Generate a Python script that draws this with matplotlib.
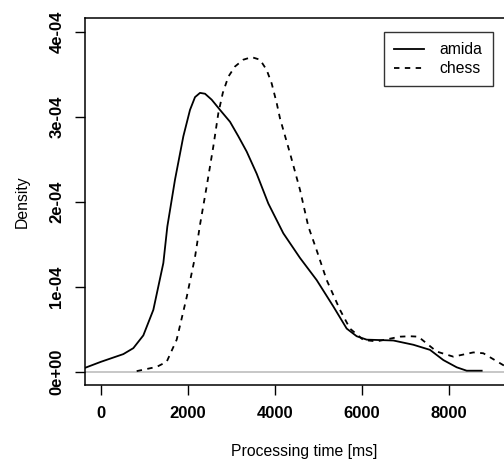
import matplotlib.pyplot as plt
import matplotlib as mpl
import numpy as np

mpl.rcParams.update({
    "font.family": ["Liberation Sans", "DejaVu Sans"],
    "font.size": 11,
})

# ===========================================================
# Data (density curves, y in units of 1e-4)
# ===========================================================
amida_x = [-361, 0, 513, 743, 973, 1203, 1433, 1525, 1701, 1893, 2046, 2161,
           2276, 2391, 2544, 2736, 2966, 3157, 3349, 3579, 3846, 4191, 4575,
           4958, 5341, 5648, 5878, 6108, 6720, 7180, 7563, 7870, 8177, 8406, 8751]
amida_y = [0.05, 0.12, 0.21, 0.28, 0.43, 0.73, 1.28, 1.71, 2.26, 2.77, 3.08, 3.23,
           3.28, 3.27, 3.20, 3.08, 2.94, 2.77, 2.59, 2.33, 1.98, 1.63, 1.34,
           1.08, 0.77, 0.51, 0.42, 0.38, 0.37, 0.32, 0.26, 0.14, 0.055, 0.015, 0.015]

chess_x = [820, 1280, 1510, 1740, 1970, 2161, 2276, 2429, 2582, 2697, 2800, 2927,
           3080, 3271, 3464, 3655, 3808, 3924, 4039, 4115, 4345, 4575, 4766,
           4958, 5188, 5494, 5724, 6031, 6338, 6874, 7103, 7294, 7717, 8100,
           8559, 8789, 9249, 9500]
chess_y = [0.01, 0.06, 0.12, 0.38, 0.88, 1.35, 1.73, 2.18, 2.65, 3.04, 3.28, 3.47,
           3.59, 3.67, 3.70, 3.67, 3.55, 3.39, 3.16, 2.98, 2.57, 2.14, 1.71,
           1.43, 1.08, 0.73, 0.51, 0.376, 0.36, 0.415, 0.42, 0.415, 0.24, 0.18,
           0.23, 0.22, 0.08, 0.03]

x_ticks = [0, 2000, 4000, 6000, 8000]
y_ticks = [0, 1e-4, 2e-4, 3e-4, 4e-4]
y_tick_labels = ["0e+00", "1e-04", "2e-04", "3e-04", "4e-04"]

# ===========================================================
# Figure
# ===========================================================
W, H = 504, 459
fig = plt.figure(figsize=(W / 100, H / 100), dpi=100)

left, top, bottom = 85.3, 18, 385
xmin, xmax = -361, 9700
px_per_unit = 87 / 2000
width_px = (xmax - xmin) * px_per_unit
ax = fig.add_axes([left / W, (H - bottom) / H, width_px / W, (bottom - top) / H])

ax.axhline(0, color="#bebebe", lw=1.2, zorder=1)
ax.plot(amida_x, np.array(amida_y) * 1e-4, color="black", lw=1.3,
        label="amida", zorder=3)
ax.plot(chess_x, np.array(chess_y) * 1e-4, color="black", lw=1.3,
        dashes=(3, 3), label="chess", zorder=3)

ax.set_xlim(xmin, xmax)
ax.set_ylim(-0.153e-4, 4.16e-4)

ax.set_xticks(x_ticks)
ax.set_xticklabels([str(t) for t in x_ticks], fontweight="bold", fontsize=12)
ax.set_yticks(y_ticks)
ax.set_yticklabels(y_tick_labels, fontweight="bold", fontsize=12,
                   rotation=90, va="center")
ax.tick_params(direction="out", length=7, width=1, pad=8)

for s in ax.spines.values():
    s.set_linewidth(1.1)

ax.set_xlabel("Processing time [ms]", labelpad=17, fontsize=11.3)
ax.set_ylabel("Density", labelpad=14, fontsize=11.3)

leg = ax.legend(loc="upper left", bbox_to_anchor=(384 / W, 1 - 32 / H),
                bbox_transform=fig.transFigure, borderaxespad=0,
                fancybox=False, frameon=True, edgecolor="black",
                handlelength=1.9, handletextpad=1.0, labelspacing=0.25,
                borderpad=0.65, fontsize=11.3)
leg.get_frame().set_linewidth(1.0)

fig.savefig("out.png", dpi=100)
